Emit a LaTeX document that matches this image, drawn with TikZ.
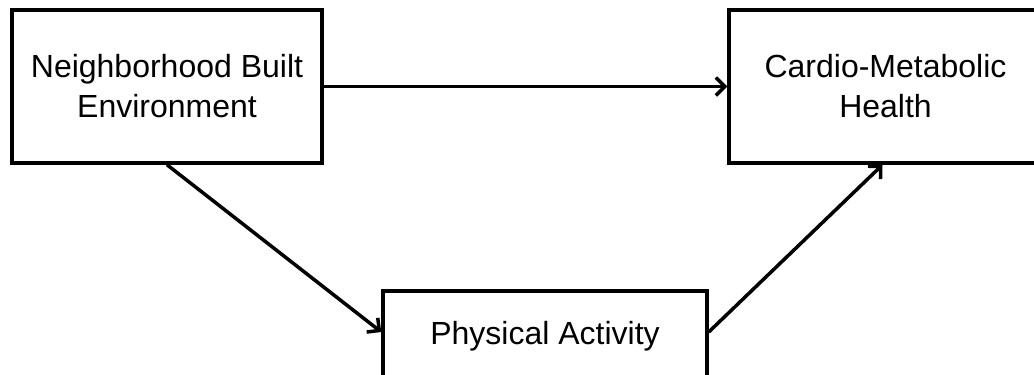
\documentclass[tikz,border=0pt]{standalone}
\usepackage{fontspec}
\setmainfont{Liberation Sans}
\usetikzlibrary{arrows.meta}
\begin{document}
\begin{tikzpicture}[x=1bp,y=-1bp,
  box/.style={draw=black,line width=3.5bp,rectangle,inner sep=0pt,align=center,
    font=\fontsize{32bp}{40bp}\selectfont},
  link/.style={line width=3.5bp,-{Straight Barb[length=9bp,width=18bp,line width=3.5bp]}}]
\useasboundingbox (0,0) rectangle (1034,374);
\clip (0,0) rectangle (1034,374);
\node[box,minimum width=310bp,minimum height=153bp] (nbe) at (167,86.5) {Neighborhood Built\\Environment};
\node[box,minimum width=313bp,minimum height=153bp] (cmh) at (885.5,86.5) {Cardio-Metabolic\\Health};
\node[box,minimum width=324bp,minimum height=90bp] (pa) at (545,336) {Physical Activity};
\draw[link] (nbe.east) -- (cmh.west);
\draw[link] (nbe.south) -- ([yshift=4bp]pa.west);
\draw[link] ([yshift=4bp]pa.east) -- ([xshift=-3bp]cmh.south);
\end{tikzpicture}
\end{document}
